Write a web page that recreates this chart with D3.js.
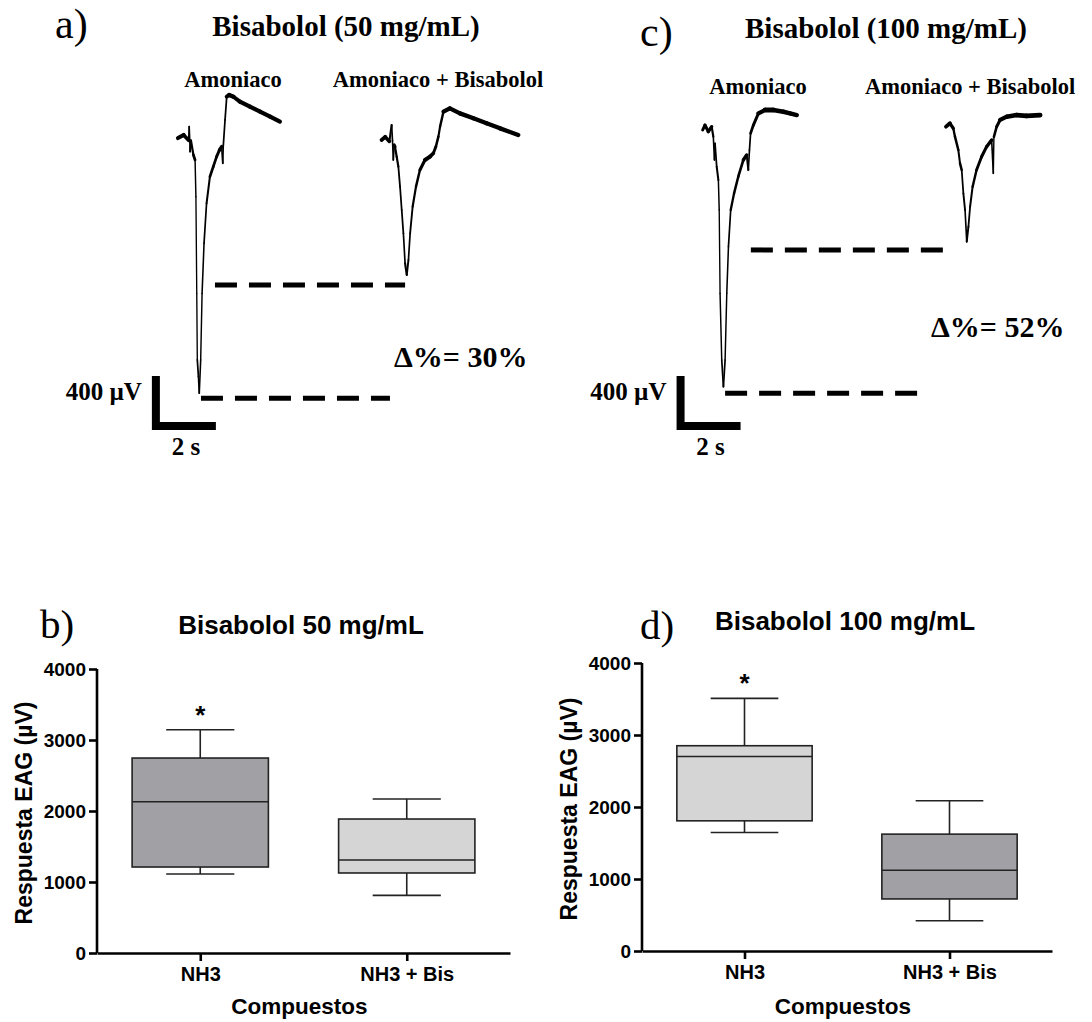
<!DOCTYPE html>
<html>
<head>
<meta charset="utf-8">
<script src="https://cdn.jsdelivr.net/npm/d3@7"></script>
<style>
  body { margin: 0; background: #fff; }
  svg { display: block; }
  .serif { font-family: "Liberation Serif", "Times New Roman", serif; }
  .sans { font-family: "Liberation Sans", Arial, sans-serif; font-weight: bold; }
</style>
</head>
<body>
<script>
// EAG recordings: [time (s), response (µV)]
var traceA1 = [[0,0],[0.2,26],[0.38,-20],[0.40,99],[0.42,-17],[0.43,-119],[0.46,-20],[0.55,-148],[0.61,-191],
  [0.64,-510],[0.67,-1351],[0.69,-1930],[0.73,-2075],[0.76,-2220],[0.81,-1930],[0.86,-1351],[0.93,-916],
  [1.02,-568],[1.14,-336],[1.26,-249],[1.38,-162],[1.48,-104],[1.56,-75],[1.60,-220],[1.62,-60],[1.68,157],
  [1.74,359],[1.83,374],[1.98,359],[2.21,316],[2.57,272],[2.93,229],[3.29,186],[3.64,142]];
var traceA2 = [[7.27,-17],[7.40,10],[7.55,-30],[7.63,113],[7.66,-20],[7.69,-191],[7.72,-60],[7.75,-75],
  [7.81,-162],[7.87,-249],[7.93,-423],[7.99,-626],[8.05,-829],[8.11,-1090],[8.17,-1191],[8.23,-1061],
  [8.29,-829],[8.38,-597],[8.50,-423],[8.64,-278],[8.82,-191],[9.00,-162],[9.12,-133],[9.21,-75],[9.30,12],
  [9.36,99],[9.48,229],[9.71,258],[10.07,214],[10.55,171],[11.02,128],[11.50,84],[12.15,26]];
var traceC1 = [[0,0],[0.08,43],[0.20,-14],[0.32,29],[0.38,-58],[0.42,-261],[0.44,-116],[0.50,-319],
  [0.56,-435],[0.59,-696],[0.62,-1420],[0.68,-2000],[0.74,-2232],[0.80,-2000],[0.86,-1420],[0.92,-1014],
  [1.00,-696],[1.12,-551],[1.27,-406],[1.45,-261],[1.57,-217],[1.63,-348],[1.67,-174],[1.71,-29],[1.81,43],
  [1.99,145],[2.23,174],[2.52,174],[2.88,159],[3.12,145],[3.36,130]];
var traceC2 = [[8.69,29],[8.83,58],[8.95,14],[9.01,-58],[9.13,-174],[9.19,-290],[9.25,-348],[9.31,-551],
  [9.37,-696],[9.43,-971],[9.49,-841],[9.55,-667],[9.64,-493],[9.78,-348],[9.96,-232],[10.14,-145],
  [10.32,-87],[10.38,-377],[10.40,-60],[10.50,29],[10.62,87],[10.86,116],[11.21,130],[11.57,122],[12.05,130]];

// peak levels marked by dashed lines: [from s, to s, µV]
var peakLinesA = [[0.82,7.57,-2264],[1.32,8.11,-1278]];
var peakLinesC = [[0.80,8.01,-2290],[1.72,8.94,-1043]];
// scale bar corner [s, µV] and sizes
var scaleBarA = [-0.79,-2504];
var scaleBarC = [-0.79,-2574];
var barSeconds = 2, barMicroVolts = 400;

// box plot summaries (µV): min, q1, median, q3, max
var categories = ["NH3", "NH3 + Bis"];
var statsB = [[1113,1211,2131,2746,3145],[812,1127,1310,1887,2169]];
var statsD = [[1645,1808,2702,2851,3509],[421,723,1122,1623,2086]];
var yTicks = [0,1000,2000,3000,4000];

var svg = d3.select("body").append("svg").attr("width", 1092).attr("height", 1022);

function tracePanel(o) {
  var x = d3.scaleLinear().domain([0, 10]).range([o.x0, o.x0 + 280]);
  var y = d3.scaleLinear().domain([0, -2000]).range([o.y0, o.y0 + 230]);
  var g = svg.append("g");

  g.append("text").attr("class", "serif").attr("x", o.letterX).attr("y", o.letterY)
    .attr("font-size", 42).text(o.letter);
  g.append("text").attr("class", "serif").attr("x", o.titleX).attr("y", o.titleY)
    .attr("font-size", 29).attr("font-weight", "bold").attr("text-anchor", "middle").text(o.title);

  o.traces.forEach(function(tr) {
    // noisy recording: the flatter the signal, the thicker the noise band looks
    var segs = d3.pairs(tr).map(function(p) {
      var x1 = x(p[0][0]), y1 = y(p[0][1]), x2 = x(p[1][0]), y2 = y(p[1][1]);
      return {x1: x1, y1: y1, x2: x2, y2: y2, slope: Math.abs((y2 - y1) / (x2 - x1))};
    });
    g.append("g").selectAll("line").data(segs).enter().append("line")
      .attr("x1", function(d) { return d.x1; }).attr("y1", function(d) { return d.y1; })
      .attr("x2", function(d) { return d.x2; }).attr("y2", function(d) { return d.y2; })
      .attr("stroke", "#000")
      .attr("stroke-width", function(d) { return 1.3 + 3.6 / (1 + d.slope / 2); })
      .attr("stroke-linecap", "round");
  });

  g.selectAll(".peak").data(o.peaks).enter().append("line").attr("class", "peak")
    .attr("x1", function(d) { return x(d[0]); }).attr("x2", function(d) { return x(d[1]); })
    .attr("y1", function(d) { return y(d[2]); }).attr("y2", function(d) { return y(d[2]); })
    .attr("stroke", "#000").attr("stroke-width", 5).attr("stroke-dasharray", "22,12");

  var cx = x(o.bar[0]), cy = y(o.bar[1]);
  g.append("path")
    .attr("d", "M" + cx + "," + y(o.bar[1] + barMicroVolts) + "V" + cy + "H" + x(o.bar[0] + barSeconds))
    .attr("fill", "none").attr("stroke", "#000").attr("stroke-width", 8).attr("stroke-linecap", "square");
  g.append("text").attr("class", "serif").attr("x", cx - 14).attr("y", cy - 26)
    .attr("font-size", 25).attr("font-weight", "bold").attr("text-anchor", "end").text("400 µV");
  g.append("text").attr("class", "serif").attr("x", (cx + x(o.bar[0] + barSeconds)) / 2 + 2).attr("y", cy + 29)
    .attr("font-size", 25).attr("font-weight", "bold").attr("text-anchor", "middle").text("2 s");

  g.append("text").attr("class", "serif").attr("x", o.deltaX).attr("y", o.deltaY)
    .attr("font-size", 30).attr("font-weight", "bold").text(o.delta);
  o.labels.forEach(function(l) {
    g.append("text").attr("class", "serif").attr("x", l.x).attr("y", l.y)
      .attr("font-size", 22.5).attr("font-weight", "bold").attr("text-anchor", l.anchor).text(l.text);
  });
}

tracePanel({
  x0: 178, y0: 138, traces: [traceA1, traceA2], peaks: peakLinesA, bar: scaleBarA,
  letter: "a)", letterX: 55, letterY: 38, title: "Bisabolol (50 mg/mL)", titleX: 346, titleY: 36,
  delta: "Δ%= 30%", deltaX: 394, deltaY: 367,
  labels: [{text: "Amoniaco", x: 233, y: 87, anchor: "middle"},
           {text: "Amoniaco + Bisabolol", x: 438, y: 87, anchor: "middle"}]
});
tracePanel({
  x0: 702.7, y0: 130, traces: [traceC1, traceC2], peaks: peakLinesC, bar: scaleBarC,
  letter: "c)", letterX: 640, letterY: 46, title: "Bisabolol (100 mg/mL)", titleX: 886, titleY: 38,
  delta: "Δ%= 52%", deltaX: 931, deltaY: 337,
  labels: [{text: "Amoniaco", x: 758, y: 94, anchor: "middle"},
           {text: "Amoniaco + Bisabolol", x: 865, y: 94, anchor: "start"}]
});

function boxPanel(o) {
  var x = d3.scalePoint().domain(categories).range([o.left, o.right]).padding(0.5);
  var y = d3.scaleLinear().domain([0, 4000]).range([o.bottom, o.top]);
  var g = svg.append("g");
  var bw = x.step() * 0.66;

  g.append("text").attr("class", "serif").attr("x", o.letterX).attr("y", o.letterY)
    .attr("font-size", 41).text(o.letter);
  g.append("text").attr("class", "sans").attr("x", o.titleX).attr("y", o.titleY)
    .attr("font-size", 26).attr("text-anchor", "middle").text(o.title);

  var boxes = g.selectAll(".box").data(o.stats).enter().append("g").attr("class", "box");
  boxes.append("line")
    .attr("x1", function(d, i) { return x(categories[i]); }).attr("x2", function(d, i) { return x(categories[i]); })
    .attr("y1", function(d) { return y(d[0]); }).attr("y2", function(d) { return y(d[4]); })
    .attr("stroke", "#222").attr("stroke-width", 1.6);
  [0, 4].forEach(function(k) {
    boxes.append("line")
      .attr("x1", function(d, i) { return x(categories[i]) - bw / 4; })
      .attr("x2", function(d, i) { return x(categories[i]) + bw / 4; })
      .attr("y1", function(d) { return y(d[k]); }).attr("y2", function(d) { return y(d[k]); })
      .attr("stroke", "#222").attr("stroke-width", 1.6);
  });
  boxes.append("rect")
    .attr("x", function(d, i) { return x(categories[i]) - bw / 2; })
    .attr("width", bw)
    .attr("y", function(d) { return y(d[3]); })
    .attr("height", function(d) { return y(d[1]) - y(d[3]); })
    .attr("fill", function(d, i) { return o.fills[i]; })
    .attr("stroke", "#222").attr("stroke-width", 1.6);
  boxes.append("line")
    .attr("x1", function(d, i) { return x(categories[i]) - bw / 2; })
    .attr("x2", function(d, i) { return x(categories[i]) + bw / 2; })
    .attr("y1", function(d) { return y(d[2]); }).attr("y2", function(d) { return y(d[2]); })
    .attr("stroke", "#222").attr("stroke-width", 1.6);

  // significance mark over NH3
  g.append("text").attr("class", "sans").attr("x", x(categories[0])).attr("y", y(o.stats[0][4]) - 6)
    .attr("font-size", 26).attr("text-anchor", "middle").text("*");

  var ya = g.append("g").attr("transform", "translate(" + o.left + ",0)")
    .call(d3.axisLeft(y).tickValues(yTicks).tickFormat(d3.format("d")).tickSize(8).tickSizeOuter(0).tickPadding(3));
  var xa = g.append("g").attr("transform", "translate(0," + o.bottom + ")")
    .call(d3.axisBottom(x).tickSize(8).tickSizeOuter(0).tickPadding(6));
  [ya, xa].forEach(function(a) {
    a.select(".domain").attr("stroke", "#000").attr("stroke-width", 2.6);
    a.selectAll(".tick line").attr("stroke", "#000").attr("stroke-width", 2.6);
    a.selectAll(".tick text").attr("class", "sans").attr("fill", "#000");
  });
  ya.selectAll(".tick text").attr("font-size", 19);
  xa.selectAll(".tick text").attr("font-size", 20);
  ya.select(".domain").attr("d", "M0," + o.bottom + "V" + o.top);

  g.append("text").attr("class", "sans")
    .attr("transform", "translate(" + o.ylabX + "," + ((o.top + o.bottom) / 2 + 2) + ") rotate(-90)")
    .attr("font-size", 23).attr("text-anchor", "middle").text("Respuesta EAG (µV)");
  g.append("text").attr("class", "sans").attr("x", (o.left + o.right) / 2 - 4).attr("y", 1014)
    .attr("font-size", 22.5).attr("text-anchor", "middle").text("Compuestos");
}

boxPanel({
  left: 97, right: 510, top: 669, bottom: 953, stats: statsB, fills: ["#a1a1a5", "#d5d5d5"],
  letter: "b)", letterX: 40, letterY: 638, title: "Bisabolol 50 mg/mL", titleX: 301, titleY: 634, ylabX: 32
});
boxPanel({
  left: 642, right: 1052, top: 663, bottom: 951, stats: statsD, fills: ["#d5d5d5", "#a1a1a5"],
  letter: "d)", letterX: 640, letterY: 639, title: "Bisabolol 100 mg/mL", titleX: 845, titleY: 630, ylabX: 577
});
</script>
</body>
</html>
